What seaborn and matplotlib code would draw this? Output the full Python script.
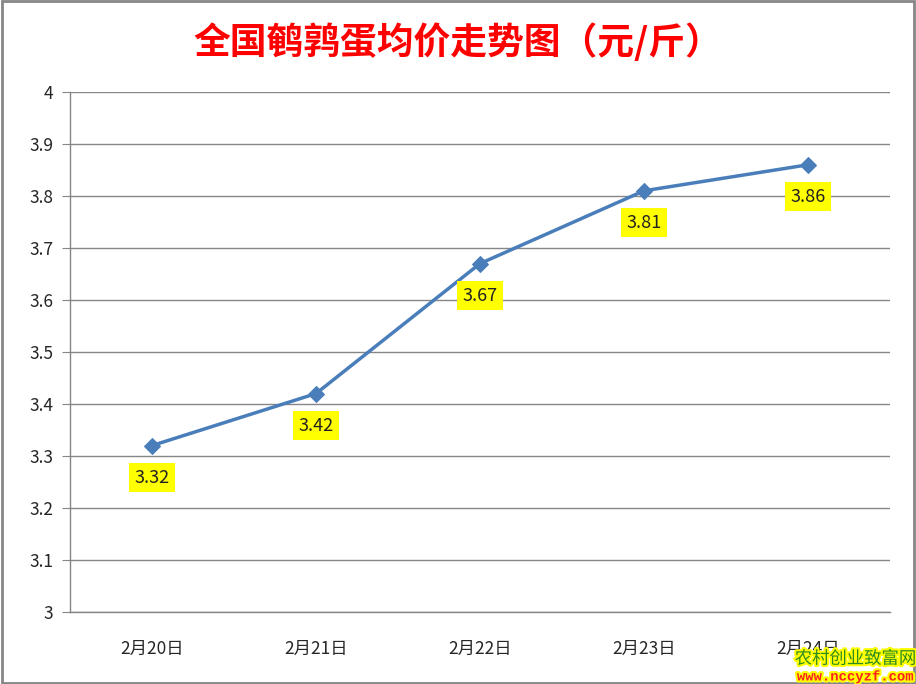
import matplotlib.pyplot as plt
import matplotlib.patheffects as pe
import pandas as pd
import seaborn as sns

# data
dates = ["2月20日", "2月21日", "2月22日", "2月23日", "2月24日"]
prices = [3.32, 3.42, 3.67, 3.81, 3.86]
y_ticks = [3, 3.1, 3.2, 3.3, 3.4, 3.5, 3.6, 3.7, 3.8, 3.9, 4]
y_tick_labels = ["3", "3.1", "3.2", "3.3", "3.4", "3.5", "3.6", "3.7", "3.8", "3.9", "4"]

df = pd.DataFrame({"date": dates, "price": prices})
df["pos"] = range(len(dates))

sns.set_style("white")
plt.rcParams['font.family'] = ['Noto Sans CJK SC', 'DejaVu Sans']

fig = plt.figure(figsize=(9.16, 6.84), dpi=100)
ax = fig.add_axes([0.0764, 0.1053, 0.8952, 0.7602])

sns.lineplot(data=df, x="pos", y="price", ax=ax, color="#4a7ebb", linewidth=2.5,
             marker="D", markersize=8, markeredgecolor="#4a7ebb")

for x, y in zip(df["pos"], df["price"]):
    ax.annotate(f"{y:.2f}", (x, y), xytext=(0, -23), textcoords="offset points",
                ha="center", va="center", fontsize=13, color="#222222",
                bbox=dict(boxstyle="square,pad=0.3", fc="#ffff00", ec="none"))

ax.set_xlim(-0.5, len(dates) - 0.5)
ax.set_ylim(3, 4)
ax.set_yticks(y_ticks)
ax.set_yticklabels(y_tick_labels, fontsize=12.5)
ax.set_xticks(df["pos"])
ax.set_xticklabels(dates, fontsize=12.5)
ax.set_xticks([i - 0.5 for i in range(len(dates) + 1)], minor=True)
ax.tick_params(axis="x", which="major", length=0, pad=20)
ax.tick_params(axis="x", which="minor", length=6, color="#868686", direction="out")
ax.tick_params(axis="y", length=6, color="#868686", direction="out", left=True, pad=6)
ax.set_xlabel("")
ax.set_ylabel("")
ax.grid(axis="y", color="#868686", linewidth=1)
ax.set_axisbelow(True)
for s in ["top", "right"]:
    ax.spines[s].set_visible(False)
for s in ["left", "bottom"]:
    ax.spines[s].set_color("#868686")
    ax.spines[s].set_linewidth(1)

fig.text(0.5, 0.938, "全国鹌鹑蛋均价走势图（元/斤）", ha="center", va="center",
         fontsize=26.5, fontweight="bold", color="#ff0000")

# watermark
fig.text(0.934, 0.037, "农村创业致富网", ha="center", va="center", fontsize=12.5,
         color="#2e8b1e", path_effects=[pe.withStroke(linewidth=3, foreground="#ffff00")])
fig.text(0.934, 0.011, "www.nccyzf.com", ha="center", va="center", fontsize=10,
         family=["Liberation Mono", "DejaVu Sans Mono"], fontweight="bold",
         color="#ff2020", path_effects=[pe.withStroke(linewidth=3, foreground="#ffff00")])

fig.patches.append(plt.Rectangle((0.002, 0.002), 0.996, 0.996, transform=fig.transFigure,
                                 fill=False, ec="#868686", lw=2))

fig.savefig("out.png", dpi=100)
